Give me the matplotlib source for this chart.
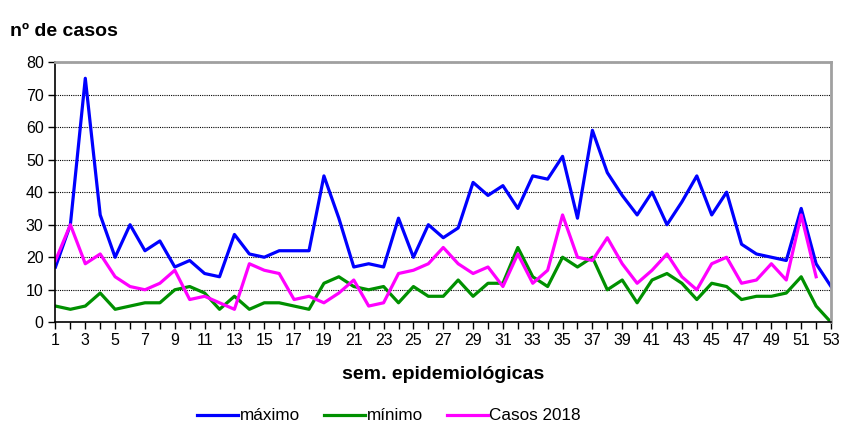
import numpy as np
import matplotlib
matplotlib.use('Agg')
from matplotlib import pyplot as plt

plt.rcParams['font.family'] = ['Liberation Sans', 'DejaVu Sans']

# semanas epidemiológicas
semanas = list(range(1, 54))

maximo = [17, 30, 75, 33, 20, 30, 22, 25, 17, 19, 15, 14, 27, 21, 20, 22, 22, 22,
          45, 32, 17, 18, 17, 32, 20, 30, 26, 29, 43, 39, 42, 35, 45, 44, 51, 32,
          59, 46, 39, 33, 40, 30, 37, 45, 33, 40, 24, 21, 20, 19, 35, 18, 11]
minimo = [5, 4, 5, 9, 4, 5, 6, 6, 10, 11, 9, 4, 8, 4, 6, 6, 5, 4,
          12, 14, 11, 10, 11, 6, 11, 8, 8, 13, 8, 12, 12, 23, 14, 11, 20, 17,
          20, 10, 13, 6, 13, 15, 12, 7, 12, 11, 7, 8, 8, 9, 14, 5, 0]
casos_2018 = [19, 30, 18, 21, 14, 11, 10, 12, 16, 7, 8, 6, 4, 18, 16, 15, 7, 8,
              6, 9, 13, 5, 6, 15, 16, 18, 23, 18, 15, 17, 11, 21, 12, 16, 33, 20,
              19, 26, 18, 12, 16, 21, 14, 10, 18, 20, 12, 13, 18, 13, 33, 14]

fig = plt.figure(figsize=(8.43, 4.25), dpi=100)
ax = fig.add_axes([0.0658, 0.2416, 0.92, 0.6125])

ax.plot(semanas, maximo, color='#0000ff', lw=2.3, label='máximo')
ax.plot(semanas, minimo, color='#009000', lw=2.3, label='mínimo')
ax.plot(semanas[:len(casos_2018)], casos_2018, color='#ff00ff', lw=2.3, label='Casos 2018')

ax.set_xlim(1, 53)
ax.set_ylim(0, 80)
ax.set_yticks(range(0, 81, 10))
ax.set_xticks(range(1, 54, 2))
ax.set_xticks(semanas, minor=True)
ax.yaxis.grid(True, linestyle=(0, (1, 1)), color='black', lw=0.8)
ax.set_axisbelow(True)

for side in ['top', 'right']:
    ax.spines[side].set_color('#a0a0a0')
    ax.spines[side].set_linewidth(2)
for side in ['left', 'bottom']:
    ax.spines[side].set_color('black')
    ax.spines[side].set_linewidth(1.2)

ax.tick_params(axis='both', which='both', direction='out', length=5, width=1, labelsize=11.5)
ax.tick_params(axis='x', which='both', pad=3)

fig.text(0.012, 0.925, 'nº de casos', fontsize=14, fontweight='bold', va='center')
ax.set_xlabel('sem. epidemiológicas', fontsize=14, fontweight='bold', labelpad=13)

ax.legend(loc='upper center', bbox_to_anchor=(0.43, -0.272), ncol=3, frameon=False,
          fontsize=12.3, handlelength=2.4, handletextpad=0.1, columnspacing=1.4)

fig.savefig('out.png', dpi=100)
